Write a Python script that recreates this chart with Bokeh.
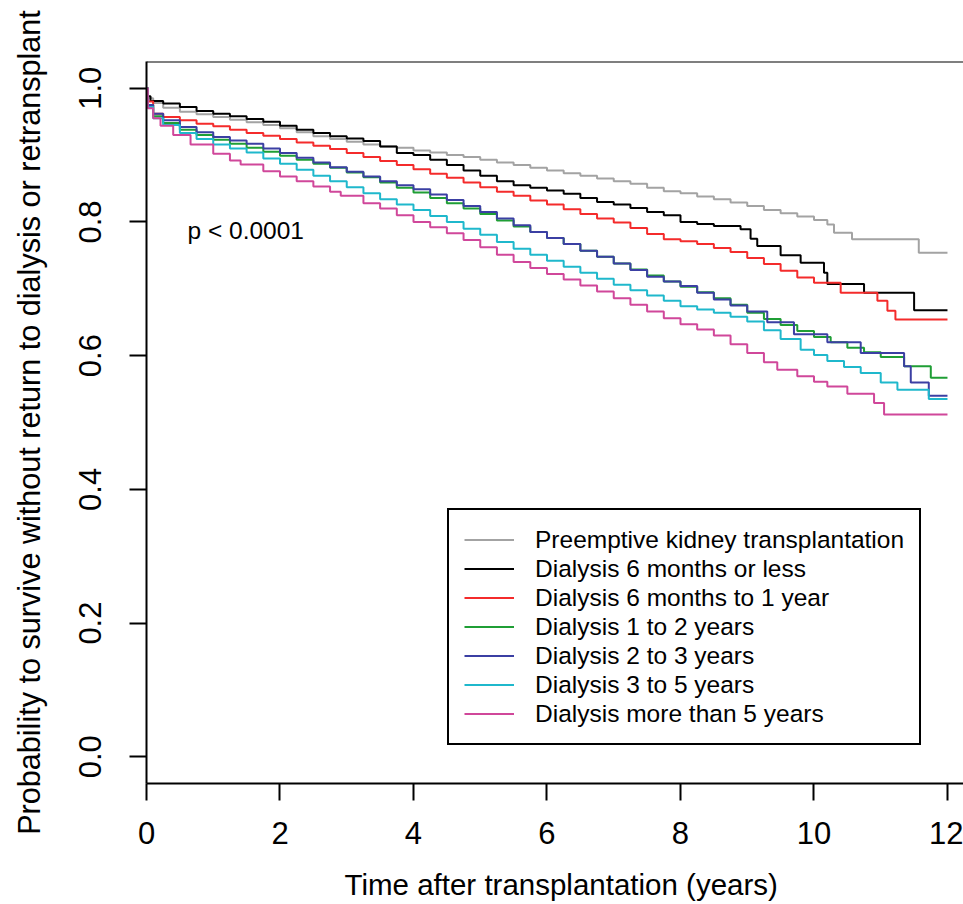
from bokeh.plotting import figure
from bokeh.models import (Range1d, FixedTicker, PrintfTickFormatter, Span, Label,
                          Legend, LegendItem, Title)
from bokeh.embed import file_html
from bokeh.resources import INLINE

# Kaplan-Meier graft survival by pre-transplant dialysis duration
groups = [
    "Preemptive kidney transplantation",
    "Dialysis 6 months or less",
    "Dialysis 6 months to 1 year",
    "Dialysis 1 to 2 years",
    "Dialysis 2 to 3 years",
    "Dialysis 3 to 5 years",
    "Dialysis more than 5 years",
]
colors = ["#a3a3a3", "#000000", "#f42b2b", "#1f9e35", "#3b3fa3", "#1fb8cc", "#d0479a"]

t_preemptive = [0, 0.02, 0.1, 0.25, 0.5, 0.75, 1.0, 1.25, 1.5, 1.75, 2.0, 2.25, 2.5, 2.75,
                3.0, 3.25, 3.5, 3.75, 4.0, 4.25, 4.5, 4.75, 5.0, 5.25, 5.5, 5.75, 6.0, 6.25,
                6.5, 6.75, 7.0, 7.25, 7.5, 7.75, 8.0, 8.25, 8.5, 8.75, 9.0, 9.25, 9.5, 9.75,
                10.0, 10.2, 10.3, 10.57, 11.57, 12.0]
s_preemptive = [1.0, 0.985, 0.978, 0.971, 0.965, 0.961, 0.957, 0.953, 0.949, 0.945, 0.940,
                0.934, 0.928, 0.924, 0.920, 0.916, 0.913, 0.911, 0.907, 0.904, 0.900, 0.897,
                0.893, 0.889, 0.885, 0.881, 0.877, 0.873, 0.869, 0.865, 0.861, 0.857, 0.851,
                0.846, 0.843, 0.838, 0.834, 0.829, 0.824, 0.818, 0.813, 0.808, 0.803, 0.796,
                0.784, 0.774, 0.754, 0.754]

t_6m = [0, 0.02, 0.06, 0.25, 0.5, 0.75, 1.0, 1.25, 1.5, 1.75, 2.0, 2.25, 2.5, 2.75, 3.0,
        3.25, 3.5, 3.75, 4.0, 4.25, 4.5, 4.75, 5.0, 5.25, 5.5, 5.75, 6.0, 6.25, 6.5, 6.75,
        7.0, 7.25, 7.5, 7.75, 8.0, 8.25, 8.5, 8.9, 9.05, 9.15, 9.5, 9.8, 10.15, 10.2, 10.75,
        11.5, 12.0]
s_6m = [1.0, 0.988, 0.981, 0.977, 0.972, 0.966, 0.962, 0.958, 0.954, 0.950, 0.944, 0.938,
        0.933, 0.928, 0.925, 0.921, 0.913, 0.903, 0.900, 0.893, 0.885, 0.877, 0.869, 0.861,
        0.855, 0.851, 0.847, 0.842, 0.836, 0.830, 0.826, 0.821, 0.815, 0.810, 0.800, 0.797,
        0.794, 0.789, 0.775, 0.764, 0.750, 0.739, 0.724, 0.707, 0.694, 0.668, 0.668]

t_6m_1y = [0, 0.02, 0.1, 0.25, 0.5, 0.75, 1.0, 1.25, 1.5, 1.75, 2.0, 2.25, 2.5, 2.75, 3.0,
           3.25, 3.5, 3.75, 4.0, 4.25, 4.5, 4.75, 5.0, 5.25, 5.5, 5.75, 6.0, 6.25, 6.5, 6.75,
           7.0, 7.25, 7.5, 7.75, 8.0, 8.25, 8.5, 8.75, 9.0, 9.25, 9.5, 9.75, 10.0, 10.4,
           10.95, 11.1, 11.22, 12.0]
s_6m_1y = [1.0, 0.980, 0.962, 0.957, 0.952, 0.947, 0.943, 0.938, 0.933, 0.929, 0.924,
           0.919, 0.914, 0.909, 0.903, 0.897, 0.891, 0.885, 0.879, 0.872, 0.866, 0.859,
           0.852, 0.845, 0.839, 0.832, 0.826, 0.819, 0.812, 0.805, 0.799, 0.791, 0.782,
           0.774, 0.771, 0.767, 0.761, 0.755, 0.746, 0.737, 0.727, 0.717, 0.709, 0.694,
           0.682, 0.667, 0.654, 0.654]

t_1y_2y = [0, 0.02, 0.1, 0.25, 0.5, 0.75, 1.0, 1.25, 1.5, 1.75, 2.0, 2.25, 2.5, 2.75, 3.0,
           3.25, 3.5, 3.75, 4.0, 4.25, 4.5, 4.75, 5.0, 5.25, 5.5, 5.75, 6.0, 6.25, 6.5, 6.75,
           7.0, 7.25, 7.5, 7.75, 8.0, 8.25, 8.5, 8.75, 9.0, 9.25, 9.5, 9.75, 10.0, 10.25,
           10.5, 10.75, 11.0, 11.35, 11.75, 12.0]
s_1y_2y = [1.0, 0.975, 0.958, 0.948, 0.938, 0.930, 0.923, 0.917, 0.911, 0.905, 0.899,
           0.893, 0.887, 0.881, 0.874, 0.867, 0.859, 0.851, 0.844, 0.836, 0.828, 0.820,
           0.812, 0.802, 0.793, 0.785, 0.776, 0.767, 0.757, 0.748, 0.738, 0.729, 0.720,
           0.711, 0.703, 0.695, 0.686, 0.676, 0.664, 0.655, 0.646, 0.637, 0.628, 0.620,
           0.612, 0.605, 0.598, 0.584, 0.567, 0.567]

t_2y_3y = [0, 0.02, 0.1, 0.25, 0.5, 0.75, 1.0, 1.25, 1.5, 1.75, 2.0, 2.25, 2.5, 2.75, 3.0,
           3.25, 3.5, 3.75, 4.0, 4.25, 4.5, 4.75, 5.0, 5.25, 5.5, 5.75, 6.0, 6.25, 6.5, 6.75,
           7.0, 7.25, 7.5, 7.75, 8.0, 8.25, 8.5, 8.75, 9.0, 9.3, 9.7, 10.2, 10.7, 11.35,
           11.45, 11.72, 12.0]
s_2y_3y = [1.0, 0.975, 0.962, 0.952, 0.942, 0.934, 0.927, 0.922, 0.917, 0.910, 0.903,
           0.896, 0.889, 0.882, 0.875, 0.868, 0.861, 0.855, 0.849, 0.841, 0.833, 0.824,
           0.815, 0.805, 0.795, 0.785, 0.776, 0.767, 0.757, 0.748, 0.738, 0.728, 0.718,
           0.711, 0.704, 0.694, 0.684, 0.675, 0.666, 0.650, 0.632, 0.620, 0.604, 0.584,
           0.560, 0.540, 0.540]

t_3y_5y = [0, 0.02, 0.1, 0.25, 0.5, 0.75, 1.0, 1.25, 1.5, 1.75, 2.0, 2.25, 2.5, 2.75, 3.0,
           3.25, 3.5, 3.75, 4.0, 4.25, 4.5, 4.75, 5.0, 5.25, 5.5, 5.75, 6.0, 6.25, 6.5, 6.75,
           7.0, 7.25, 7.5, 7.75, 8.0, 8.25, 8.5, 8.75, 9.0, 9.25, 9.5, 9.8, 10.0, 10.2,
           10.45, 10.7, 11.0, 11.25, 11.72, 12.0]
s_3y_5y = [1.0, 0.972, 0.955, 0.945, 0.933, 0.924, 0.916, 0.910, 0.904, 0.895, 0.887,
           0.878, 0.869, 0.861, 0.852, 0.843, 0.834, 0.826, 0.818, 0.809, 0.800, 0.790,
           0.781, 0.770, 0.760, 0.751, 0.742, 0.733, 0.724, 0.715, 0.706, 0.698, 0.690,
           0.682, 0.674, 0.669, 0.664, 0.658, 0.651, 0.638, 0.625, 0.609, 0.601, 0.592,
           0.583, 0.574, 0.560, 0.549, 0.535, 0.535]

t_over_5y = [0, 0.02, 0.1, 0.21, 0.4, 0.66, 1.0, 1.25, 1.41, 1.75, 2.0, 2.25, 2.5, 2.75,
             2.91, 3.25, 3.5, 3.75, 4.0, 4.25, 4.5, 4.75, 5.0, 5.25, 5.5, 5.75, 6.0, 6.25,
             6.5, 6.75, 7.0, 7.25, 7.5, 7.75, 8.0, 8.25, 8.5, 8.75, 9.0, 9.25, 9.45, 9.75,
             10.0, 10.2, 10.5, 10.9, 11.05, 12.0]
s_over_5y = [1.0, 0.970, 0.955, 0.944, 0.930, 0.916, 0.902, 0.892, 0.886, 0.876, 0.868,
             0.861, 0.853, 0.845, 0.839, 0.828, 0.820, 0.810, 0.800, 0.792, 0.783, 0.773,
             0.762, 0.751, 0.740, 0.731, 0.722, 0.714, 0.705, 0.696, 0.686, 0.676, 0.666,
             0.656, 0.647, 0.639, 0.630, 0.617, 0.604, 0.590, 0.579, 0.569, 0.561, 0.554,
             0.543, 0.529, 0.512, 0.512]

times = [t_preemptive, t_6m, t_6m_1y, t_1y_2y, t_2y_3y, t_3y_5y, t_over_5y]
survival = [s_preemptive, s_6m, s_6m_1y, s_1y_2y, s_2y_3y, s_3y_5y, s_over_5y]

x_ticks = [0, 2, 4, 6, 8, 10, 12]
y_ticks = [0.0, 0.2, 0.4, 0.6, 0.8, 1.0]

FONT = "Liberation Sans"

p = figure(width=963, height=904,
           x_range=Range1d(0, 12.24), y_range=Range1d(-0.04, 1.04),
           output_backend="svg", toolbar_location=None,
           min_border_left=146, min_border_right=0,
           min_border_top=61, min_border_bottom=121)
p.outline_line_color = None
p.xgrid.visible = False
p.ygrid.visible = False
p.background_fill_color = "white"
p.border_fill_color = "white"

for ax in (p.xaxis[0], p.yaxis[0]):
    ax.axis_line_width = 2
    ax.axis_line_color = "black"
    ax.major_tick_line_width = 2
    ax.major_tick_line_color = "black"
    ax.major_tick_out = 17
    ax.major_tick_in = 0
    ax.minor_tick_out = 0
    ax.minor_tick_in = 0
    ax.major_label_text_font = FONT
    ax.major_label_text_font_size = "31px"
    ax.major_label_text_color = "black"

p.xaxis.ticker = FixedTicker(ticks=x_ticks)
p.xaxis.major_label_standoff = 21
p.yaxis.ticker = FixedTicker(ticks=y_ticks)
p.yaxis.formatter = PrintfTickFormatter(format="%.1f")
p.yaxis.major_label_orientation = "vertical"
p.yaxis.major_label_standoff = 28

p.yaxis.axis_label = "Probability to survive without return to dialysis or retransplant"
p.yaxis.axis_label_text_font = FONT
p.yaxis.axis_label_text_font_size = "30.6px"
p.yaxis.axis_label_text_font_style = "normal"
p.yaxis.axis_label_text_color = "black"
p.yaxis.axis_label_standoff = 31

# blank band between the tick labels and the x-axis title
p.add_layout(Title(text=" ", standoff=14, text_font_size="1px"), "below")
# x-axis title, set under the tick labels
p.add_layout(Title(text="Time after transplantation (years)", align="left", offset=198,
                   vertical_align="bottom", standoff=4, text_font=FONT,
                   text_font_size="29.5px", text_font_style="normal",
                   text_color="black"), "below")

# top edge of the plot box
p.add_layout(Span(location=1.04, dimension="width", line_color="black", line_width=2))

renderers = []
for t, s, c in zip(times, survival, colors):
    r = p.step(t, s, mode="after", line_color=c, line_width=2)
    renderers.append(r)

legend = Legend(
    items=[LegendItem(label=g, renderers=[r]) for g, r in zip(groups, renderers)],
    location=(301, 38),
    padding=15, spacing=0, margin=0,
    label_height=29, glyph_height=29, glyph_width=50, label_standoff=21,
    label_text_font=FONT, label_text_font_size="24.5px", label_text_color="black",
    border_line_color="black", border_line_width=2, border_line_alpha=1.0,
    background_fill_color="white", background_fill_alpha=1.0,
)
p.add_layout(legend, "center")

p.add_layout(Label(x=0.614, y=0.787, text="p < 0.0001", text_font=FONT,
                   text_font_size="24.5px", text_color="black",
                   text_align="left", text_baseline="alphabetic"))

open("out.html", "w").write(file_html(p, INLINE))
